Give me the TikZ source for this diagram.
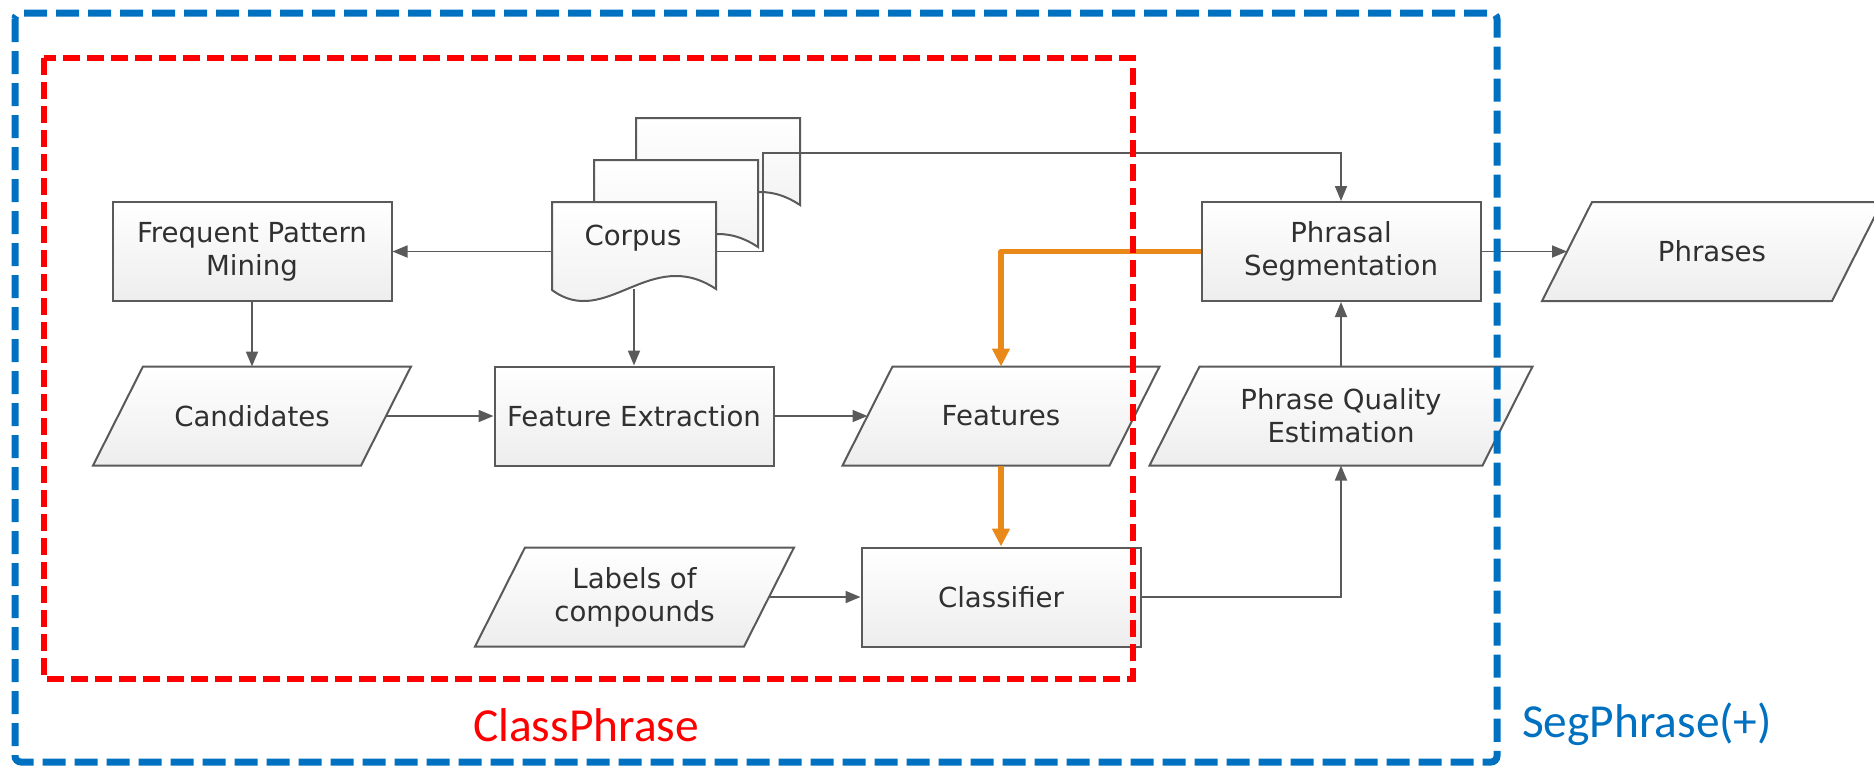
\documentclass[tikz,border=0pt]{standalone}
\usepackage{fontspec}
\setmainfont{DejaVu Sans}
\newfontfamily\tagfont{Carlito}
\usetikzlibrary{arrows.meta,backgrounds}

\definecolor{edgegray}{HTML}{5A5A5A}
\definecolor{textgray}{HTML}{303030}
\definecolor{fillbottom}{HTML}{EDEDED}
\definecolor{flowblue}{HTML}{0070C0}
\definecolor{flowred}{HTML}{FF0000}
\definecolor{floworange}{HTML}{E8891A}

% one sheet of the document stack, top-left corner at (#1,#2)
\newcommand\corpussheet[2]{%
  \path[shapefill] (#1,#2) -- ++(164,0) -- ++(0,87)
    .. controls +(-66,-44) and +(54,40) .. ++(-164,1) -- cycle;}

% slanted data outline around the mid-height body of node #1
\newcommand\dataoutline[1]{%
  \path[shapefill] ([xshift=-12.5pt]#1.south west) -- ([xshift=-12.5pt]#1.south east)
    -- ([xshift=12.5pt]#1.north east) -- ([xshift=12.5pt]#1.north west) -- cycle;}

\begin{document}
\begin{tikzpicture}[x=0.5pt,y=-0.5pt,
  shapefill/.style={draw=edgegray, line width=1pt, top color=white, bottom color=fillbottom},
  txt/.style={font=\fontsize{13.8}{16.5}\selectfont, text=textgray, align=center},
  procbox/.style={shapefill, txt, rectangle, minimum width=139.5pt, minimum height=49.5pt, inner sep=2pt},
  iobox/.style={txt, rectangle, minimum height=49.5pt, inner sep=2pt, outer sep=0pt},
  conn/.style={draw=edgegray, line width=0.9pt, -{Triangle[length=7.5pt,width=6pt]}},
  hot/.style={draw=floworange, line width=2.8pt, line join=round, -{Triangle[length=9pt,width=8.5pt]}},
  tag/.style={font=\tagfont\fontsize{23.7}{28}\selectfont, anchor=base}
]
\useasboundingbox (0,0) rectangle (1874,768);

% corpus: stack of three documents
\corpussheet{636}{118}
\corpussheet{594}{160}
\corpussheet{552}{202}
\node[txt, anchor=base] (corpus) at (633,245) {Corpus};
\coordinate (corpusW) at (552,251.5);
\coordinate (corpusE) at (716,251.5);
\coordinate (corpusS) at (634,289);
\coordinate (feedbend) at (763,153);

% process steps and data
\node[procbox] (fpm) at (252,251.5) {Frequent Pattern\\Mining};
\node[iobox, minimum width=134pt] (cand) at (252,416) {Candidates};
\node[procbox] (fe) at (634,416) {Feature Extraction};
\node[iobox, minimum width=133.5pt] (feat) at (1001,416) {Features};
\node[iobox, minimum width=134.5pt] (lab) at (634.5,597) {Labels of\\compounds};
\node[procbox] (cls) at (1001,597) {Classifier};
\node[procbox] (ps) at (1341,251.5) {Phrasal\\Segmentation};
\node[iobox, minimum width=166.5pt] (pqe) at (1341,416) {Phrase Quality\\Estimation};
\node[iobox, minimum width=145pt] (phr) at (1712,251.5) {Phrases};

\begin{scope}[on background layer]
  \dataoutline{cand}
  \dataoutline{feat}
  \dataoutline{lab}
  \dataoutline{pqe}
  \dataoutline{phr}
\end{scope}

% connectors
\draw[conn] (corpusW) -- (fpm.east);
\draw[conn] (fpm) -- (cand);
\draw[conn] (corpusS) -- (fe.north);
\draw[conn] (cand) -- (fe);
\draw[conn] (fe) -- (feat);
\draw[conn] (lab) -- (cls);
\draw[conn] (cls.east) -| (pqe);
\draw[conn] (pqe) -- (ps);
\draw[conn] (ps) -- (phr);
\draw[conn] (corpusE) -| (feedbend) -| (ps);
\draw[hot] (ps.west) -| (feat);
\draw[hot] (feat) -- (cls);

% method frames
\draw[flowred, line width=3pt, dash pattern=on 8.5pt off 3.5pt] (44,58) rectangle (1133,679);
\draw[flowblue, line width=3.5pt, dash pattern=on 11.5pt off 4.5pt, rounded corners=3pt] (15,13) rectangle (1497,762);
\node[tag, text=flowred] (classtag) at (586,741) {ClassPhrase};
\node[tag, text=flowblue] (segtag) at (1647,737) {SegPhrase(+)};
\end{tikzpicture}
\end{document}
